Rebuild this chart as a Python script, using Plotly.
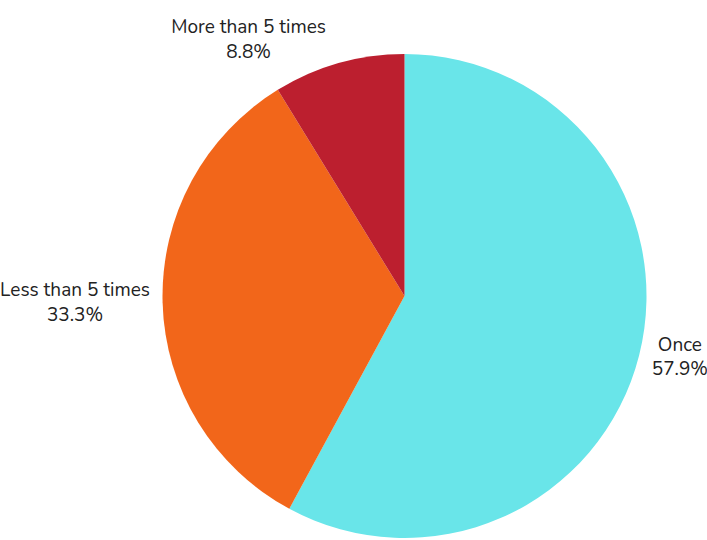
import plotly.graph_objects as go

labels = ["Once", "Less than 5 times", "More than 5 times"]
values = [33, 19, 5]
colors = ["#69E5E9", "#F2661A", "#BC1F2F"]

fig = go.Figure(go.Pie(
    labels=labels,
    values=values,
    sort=False,
    direction="clockwise",
    rotation=0,
    marker=dict(colors=colors, line=dict(width=0)),
    textposition="outside",
    texttemplate="%{label}<br>%{percent:.1%}",
    textfont=dict(size=19, color="#222222", family="Nunito, Open Sans"),
    hoverinfo="label+percent",
    automargin=False,
))
fig.update_layout(
    width=707, height=540,
    margin=dict(l=140, r=38, t=54, b=2, autoexpand=False),
    showlegend=False,
    paper_bgcolor="white",
    plot_bgcolor="white",
    font=dict(family="Nunito, Open Sans", size=19, color="#222222"),
)
fig.write_html("out.html")
